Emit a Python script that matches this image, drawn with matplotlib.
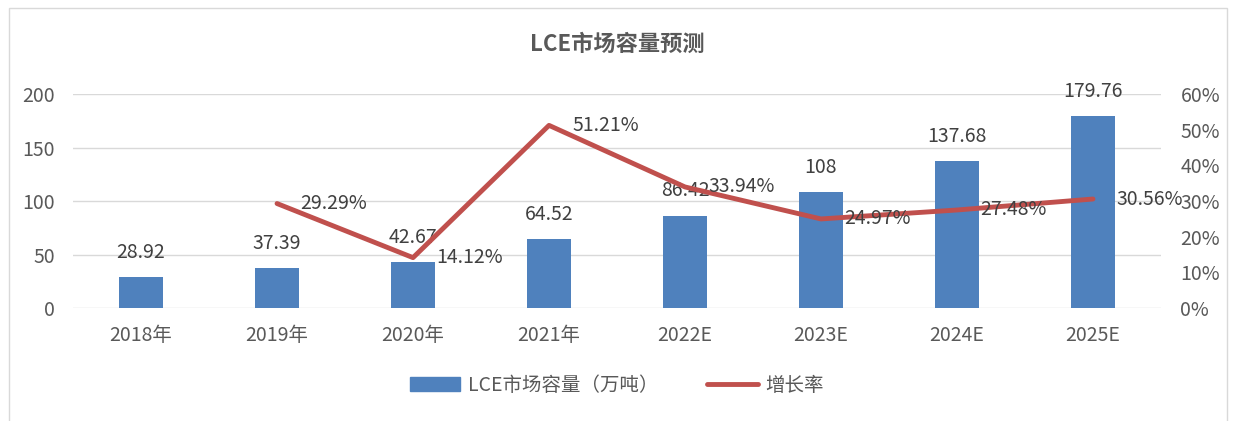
import matplotlib.pyplot as plt
from matplotlib.patches import Rectangle
from matplotlib.lines import Line2D
from matplotlib.patches import Patch

plt.rcParams['font.family'] = ['Noto Sans CJK SC', 'DejaVu Sans']

years = ['2018年', '2019年', '2020年', '2021年', '2022E', '2023E', '2024E', '2025E']
capacity = [28.92, 37.39, 42.67, 64.52, 86.42, 108, 137.68, 179.76]
cap_labels = ['28.92', '37.39', '42.67', '64.52', '86.42', '108', '137.68', '179.76']
growth = [None, 29.29, 14.12, 51.21, 33.94, 24.97, 27.48, 30.56]

bar_color = '#4F81BD'
line_color = '#C0504D'
text_color = '#595959'

fig = plt.figure(figsize=(12.34, 4.21), dpi=100)
ax = fig.add_axes([0.0592, 0.2684, 0.8816, 0.5083])
ax2 = ax.twinx()

x = list(range(len(years)))
ax.bar(x, capacity, width=0.32, color=bar_color, zorder=2)
for i, v in enumerate(capacity):
    ax.text(i, v + 23, cap_labels[i], ha='center', va='center', fontsize=14, color='#404040')

ax.set_xlim(-0.5, 7.5)
ax.set_ylim(0, 200)
ax.set_yticks([0, 50, 100, 150, 200])
ax.grid(axis='y', color='#D9D9D9', linewidth=1, zorder=0)
ax.set_axisbelow(True)

gx = [i for i, g in enumerate(growth) if g is not None]
gy = [g for g in growth if g is not None]
ax2.plot(gx, gy, color=line_color, linewidth=3.5, solid_capstyle='round', zorder=3)
for i, g in zip(gx, gy):
    ax2.text(i + 0.17, g, f'{g:.2f}%', ha='left', va='center', fontsize=14, color='#404040')
ax2.set_ylim(0, 60)
ax2.set_yticks(range(0, 61, 10))
ax2.set_yticklabels([f'{t}%' for t in range(0, 61, 10)])

for a in (ax, ax2):
    for s in a.spines.values():
        s.set_visible(False)
    a.tick_params(length=0, labelsize=14, labelcolor=text_color)
ax.tick_params(axis='x', pad=12)
ax.tick_params(axis='y', pad=13)
ax2.tick_params(axis='y', pad=14)
ax.set_xticks(x)
ax.set_xticklabels(years)

fig.text(0.5, 0.895, 'LCE市场容量预测', ha='center', va='center', fontsize=16,
         fontweight='bold', color=text_color)

handles = [Patch(color=bar_color), Line2D([0], [0], color=line_color, linewidth=3.5, solid_capstyle='round')]
fig.legend(handles, ['LCE市场容量（万吨）', '增长率'], loc='center', bbox_to_anchor=(0.5, 0.085),
           ncol=2, frameon=False, fontsize=14, labelcolor=text_color, handlelength=2.6,
           handletextpad=0.4, columnspacing=2.5)

fig.patches.append(Rectangle((0.007, -0.05), 0.987, 1.03, transform=fig.transFigure,
                             fill=False, edgecolor='#D9D9D9', linewidth=1))

fig.savefig('out.png', dpi=100)
